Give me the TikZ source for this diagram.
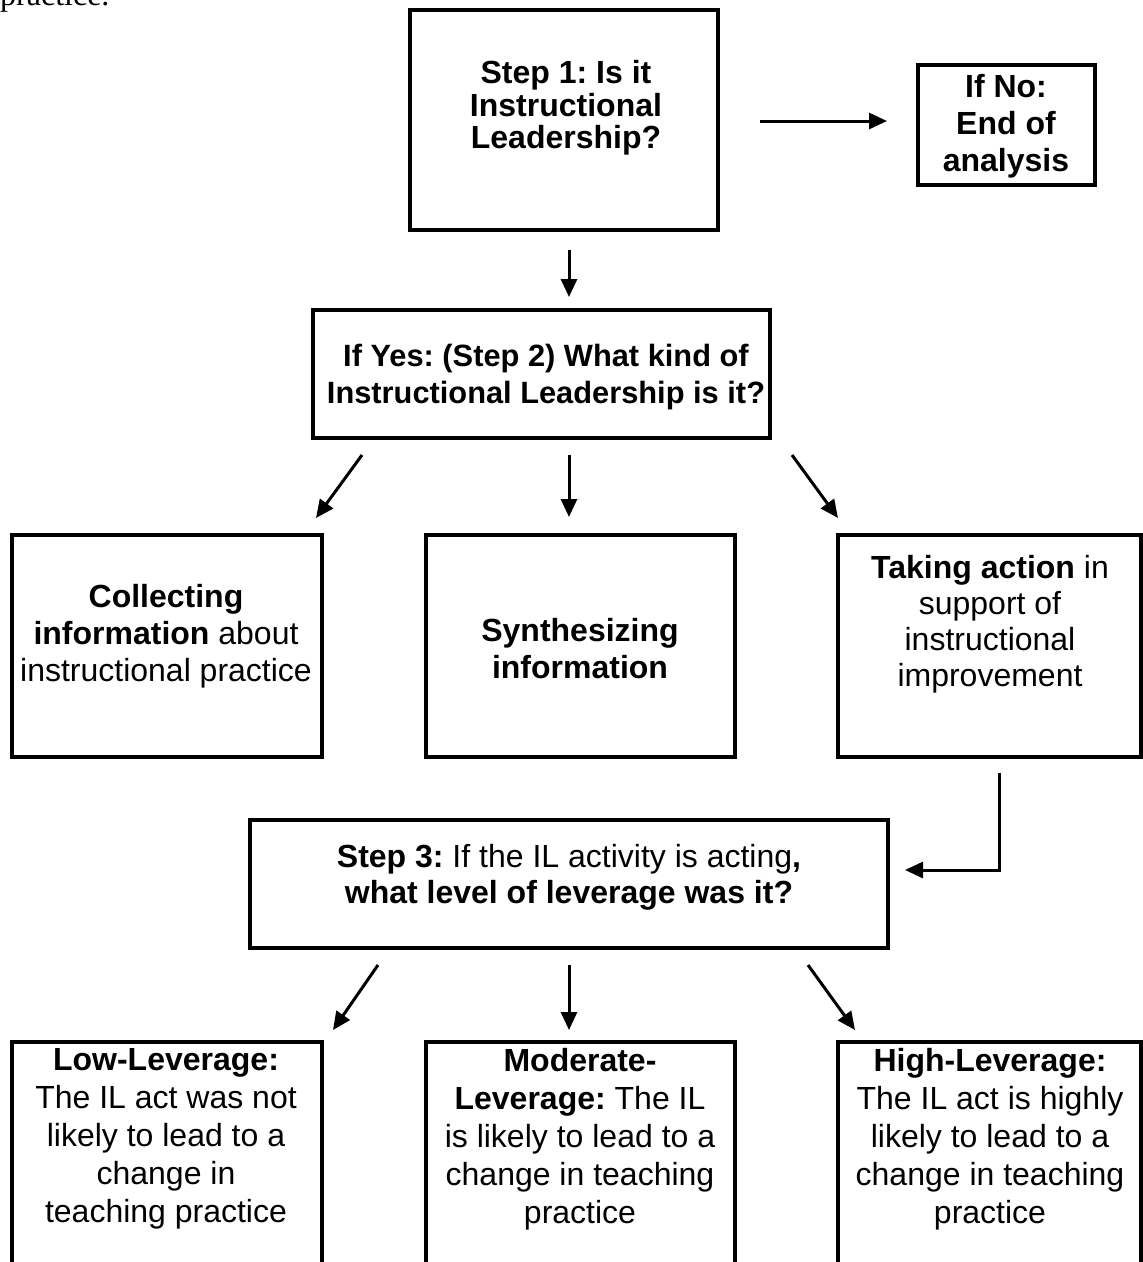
\documentclass[tikz,border=0pt]{standalone}
\usepackage{fontspec}
\setmainfont{Liberation Sans}
\newfontfamily\serifA{Liberation Serif}
\usetikzlibrary{arrows.meta}
\begin{document}
\frenchspacing
\begin{tikzpicture}[x=1pt,y=-1pt,
  box/.style={draw, line width=3.5pt, rectangle, inner sep=0pt},
  lbl/.style={align=center, font=\fontsize{32}{37}\selectfont, inner sep=0pt},
  lblb/.style={align=center, font=\fontsize{32}{38}\selectfont, inner sep=0pt},
  arr/.style={line width=3pt, -{Triangle[length=18pt,width=16pt]}}]
\useasboundingbox (0,0) rectangle (1143,1262);
% cut-off text at top
\node[anchor=base west, font=\serifA\fontsize{32}{37}\selectfont, inner sep=0pt] (prev) at (0,5) {practice.};
% boxes
\node[box, minimum width=308pt, minimum height=220pt] (b1) at (564,120) {};
\node[box, minimum width=177pt, minimum height=120pt] (bno) at (1006.5,125) {};
\node[box, minimum width=457pt, minimum height=128pt] (b2) at (541.5,374) {};
\node[box, minimum width=310pt, minimum height=222pt] (c1) at (167,646) {};
\node[box, minimum width=309pt, minimum height=222pt] (c2) at (580.5,646) {};
\node[box, minimum width=303pt, minimum height=222pt] (c3) at (989.5,646) {};
\node[box, minimum width=638pt, minimum height=128pt] (b3) at (569,884) {};
\node[box, minimum width=310pt, minimum height=278pt] (d1) at (167,1181) {};
\node[box, minimum width=309pt, minimum height=278pt] (d2) at (580.5,1181) {};
\node[box, minimum width=303pt, minimum height=278pt] (d3) at (989.5,1181) {};
% labels
\node[lbl, font=\fontsize{32}{32.5}\selectfont] (t1) at (566,108) {\textbf{Step 1: Is it}\\\textbf{Instructional}\\\textbf{Leadership?}};
\node[lbl] (tno) at (1006,126) {\textbf{If No:}\\\textbf{End of}\\\textbf{analysis}};
\node[lbl, font=\fontsize{30.8}{37}\selectfont] (t2) at (546,377) {\textbf{If Yes: (Step 2) What kind of}\\\textbf{Instructional Leadership is it?}};
\node[lbl] (tc1) at (166,636) {\textbf{Collecting}\\\textbf{information} about\\instructional practice};
\node[lbl] (tc2) at (580,649) {\textbf{Synthesizing}\\\textbf{information}};
\node[lbl, font=\fontsize{32}{36}\selectfont] (tc3) at (990,624) {\textbf{Taking action} in\\support of\\instructional\\improvement};
\node[lbl, font=\fontsize{32}{36}\selectfont] (t3) at (569,877) {\textbf{Step 3:} If the IL activity is acting\textbf{,}\\\textbf{what level of leverage was it?}};
\node[lblb] (td1) at (166,1139) {\textbf{Low-Leverage:}\\The IL act was not\\likely to lead to a\\change in\\teaching practice};
\node[lblb] (td2) at (580,1139) {\textbf{Moderate-}\\\textbf{Leverage:} The IL\\is likely to lead to a\\change in teaching\\practice};
\node[lblb] (td3) at (990,1139) {\textbf{High-Leverage:}\\The IL act is highly\\likely to lead to a\\change in teaching\\practice};
% connector end points
\coordinate (a1s) at (760,121); \coordinate (a1e) at (887,121);
\coordinate (a2s) at (569,250); \coordinate (a2e) at (569,297);
\coordinate (l1s) at (362,455); \coordinate (l1e) at (316,518);
\coordinate (m1s) at (569,455); \coordinate (m1e) at (569,517);
\coordinate (r1s) at (792,455); \coordinate (r1e) at (838,518);
\coordinate (k1) at (999,773); \coordinate (k2) at (905,870);
\coordinate (l2s) at (378,965); \coordinate (l2e) at (333,1030);
\coordinate (m2s) at (569,965); \coordinate (m2e) at (569,1030);
\coordinate (r2s) at (808,965); \coordinate (r2e) at (855,1030);
% connectors
\draw[arr] (a1s) -- (a1e);
\draw[arr] (a2s) -- (a2e);
\draw[arr] (l1s) -- (l1e);
\draw[arr] (m1s) -- (m1e);
\draw[arr] (r1s) -- (r1e);
\draw[arr] (k1) |- (k2);
\draw[arr] (l2s) -- (l2e);
\draw[arr] (m2s) -- (m2e);
\draw[arr] (r2s) -- (r2e);
\end{tikzpicture}
\end{document}
